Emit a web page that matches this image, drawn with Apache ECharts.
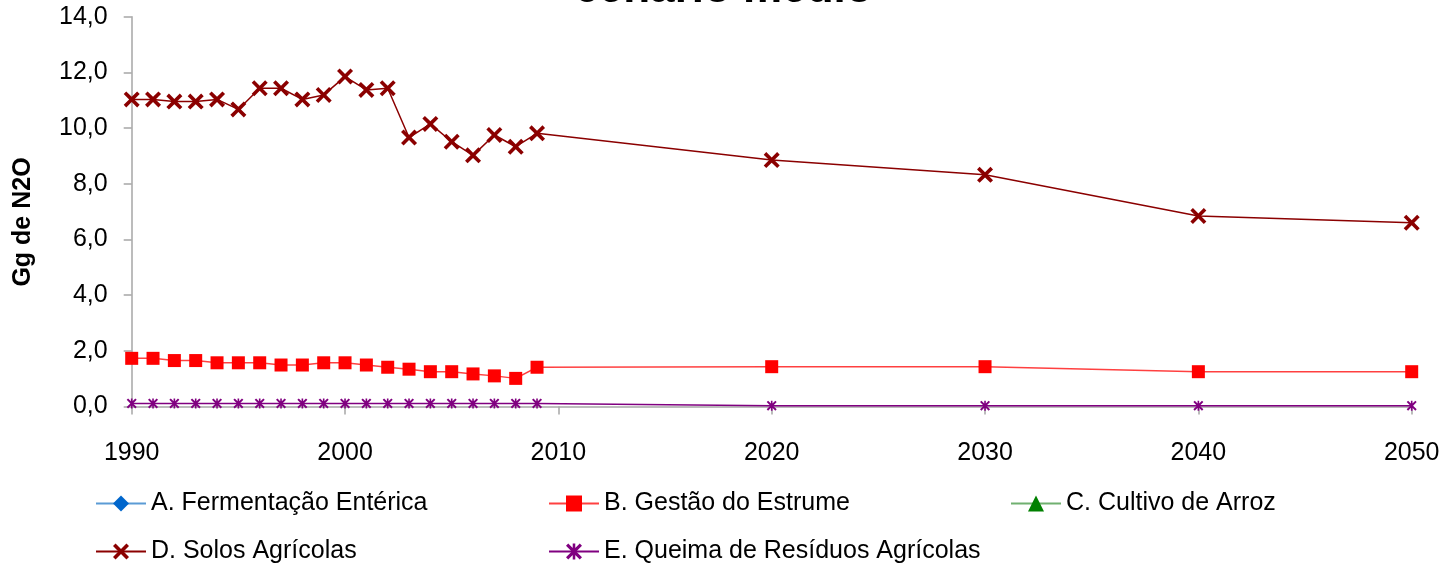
<!DOCTYPE html>
<html>
<head>
<meta charset="utf-8">
<script src="https://cdn.jsdelivr.net/npm/echarts@6/dist/echarts.min.js"></script>
<style>
html,body{margin:0;padding:0;background:#fff;}
#chart{width:1447px;height:567px;}
</style>
</head>
<body>
<div id="chart"></div>
<script>
const years = [1990,1991,1992,1993,1994,1995,1996,1997,1998,1999,2000,2001,2002,2003,2004,2005,2006,2007,2008,2009,2020,2030,2040,2050];
const seriesNames = ['A. Fermentação Entérica','B. Gestão do Estrume','C. Cultivo de Arroz','D. Solos Agrícolas','E. Queima de Resíduos Agrícolas'];
const fermentacao = [];
const gestao = [1.73,1.73,1.65,1.65,1.57,1.57,1.57,1.49,1.49,1.57,1.57,1.49,1.41,1.34,1.25,1.25,1.17,1.10,1.01,1.41,1.43,1.43,1.25,1.25];
const arroz = [];
const solos = [11.03,11.03,10.95,10.95,11.03,10.67,11.43,11.43,11.03,11.19,11.85,11.37,11.43,9.66,10.15,9.51,9.02,9.75,9.33,9.81,8.85,8.32,6.84,6.60];
const queima = [0.11,0.11,0.11,0.11,0.11,0.11,0.11,0.11,0.11,0.11,0.11,0.11,0.11,0.11,0.11,0.11,0.11,0.11,0.11,0.11,0.03,0.03,0.03,0.03];
const titleText = 'cenário médio';
const yAxisName = 'Gg de N2O';

function pairs(vals){ return vals.map((v,i)=>[years[i], v]); }

const FONT = 'Liberation Sans';
const xSym = 'path://M1.6,0 L5,3.4 L8.4,0 L10,1.6 L6.6,5 L10,8.4 L8.4,10 L5,6.6 L1.6,10 L0,8.4 L3.4,5 L0,1.6 Z';
const starSym = 'path://M1.4,0 L5,3.6 L8.6,0 L10,1.4 L6.4,5 L10,8.6 L8.6,10 L5,6.4 L1.4,10 L0,8.6 L3.6,5 L0,1.4 Z M4.2,0 L5.8,0 L5.8,10 L4.2,10 Z';

const chart = echarts.init(document.getElementById('chart'), null, {renderer:'canvas'});

const legendPos = [[95,491],[548,491],[1010,491],[95,539],[548,539]];
const legends = seriesNames.map((n,i)=>({
  data:[n], left:legendPos[i][0], top:legendPos[i][1], padding:0,
  itemWidth:50, itemHeight:20, itemGap:0,
  textStyle:{fontFamily:FONT, fontSize:25, color:'#000'}
}));

chart.setOption({
  animation:false,
  backgroundColor:'#fff',
  title:{text:titleText, left:'center', top:-37,
    textStyle:{fontFamily:FONT, fontSize:44, fontWeight:'bold', color:'#000'}},
  legend: legends,
  graphic:[{type:'text', x:23, y:222, rotation:Math.PI/2,
    style:{text:yAxisName, fontFamily:FONT, fontSize:25, fontWeight:'bold', fill:'#000',
      textAlign:'center', textVerticalAlign:'middle'}}],
  grid:{left:131.7, right:35.3, top:16.7, bottom:160.5, containLabel:false},
  xAxis:{type:'value', min:1990, max:2050, interval:10,
    axisLine:{show:true, lineStyle:{color:'#a6a6a6', width:1.5}},
    axisTick:{show:true, length:8, lineStyle:{color:'#a6a6a6', width:1.5}},
    axisLabel:{fontFamily:FONT, fontSize:25, color:'#000', margin:34, formatter:v=>String(v)},
    splitLine:{show:false}},
  yAxis:{type:'value', min:0, max:14, interval:2,
    axisLine:{show:true, lineStyle:{color:'#a6a6a6', width:1.5}},
    axisTick:{show:true, length:8, lineStyle:{color:'#a6a6a6', width:1.5}},
    axisLabel:{fontFamily:FONT, fontSize:25, color:'#000', margin:24,
      formatter:v=>v.toFixed(1).replace('.',',')},
    splitLine:{show:false}},
  series:[
    {name:seriesNames[0], type:'line', data:pairs(fermentacao), symbol:'diamond', symbolSize:14,
      itemStyle:{color:'#0066cc'}, lineStyle:{color:'#5b9bd5', width:1.5}},
    {name:seriesNames[1], type:'line', data:pairs(gestao), symbol:'rect', symbolSize:[13,13],
      itemStyle:{color:'#ff0000'}, lineStyle:{color:'#ff4040', width:1.5}},
    {name:seriesNames[2], type:'line', data:pairs(arroz), symbol:'triangle', symbolSize:14,
      itemStyle:{color:'#008000'}, lineStyle:{color:'#70b070', width:1.5}},
    {name:seriesNames[3], type:'line', data:pairs(solos), symbol:xSym, symbolSize:16,
      itemStyle:{color:'#8b0000'}, lineStyle:{color:'#8b0000', width:1.5}},
    {name:seriesNames[4], type:'line', data:pairs(queima), symbol:starSym, symbolSize:10,
      itemStyle:{color:'#800080'}, lineStyle:{color:'#800080', width:1.5}}
  ]
});
</script>
</body>
</html>
